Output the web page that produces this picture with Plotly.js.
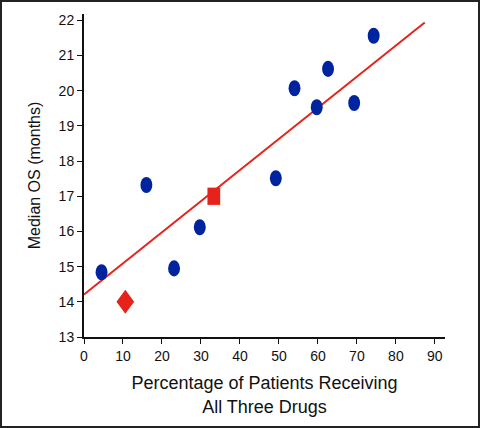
<!DOCTYPE html>
<html>
<head>
<meta charset="utf-8">
<script src="https://cdn.plot.ly/plotly-3.0.1.min.js"></script>
<style>
  html, body { margin: 0; padding: 0; background: #fff; }
  #wrap { position: relative; width: 480px; height: 428px; }
  #chart { width: 480px; height: 428px; }
  #frame { position: absolute; left: 0; top: 0; width: 480px; height: 428px; box-sizing: border-box; border: 2px solid #222; pointer-events: none; }
</style>
</head>
<body>
<div id="wrap"><div id="chart"></div><div id="frame"></div></div>
<script>
// Trials: percentage receiving all three drugs vs median OS (months)
const trialPct = [4.5, 16.0, 23.1, 29.7, 49.2, 54.0, 59.7, 62.6, 69.3, 74.3];
const trialOS  = [14.84, 17.32, 14.95, 16.12, 17.51, 20.07, 19.53, 20.62, 19.65, 21.56];
const squarePct = [33.3];
const squareOS  = [17.0];
const diamondPct = [10.6];
const diamondOS  = [14.0];
const fitPct = [0, 87.4];
const fitOS  = [14.21, 21.94];
const xTicks = [0, 10, 20, 30, 40, 50, 60, 70, 80, 90];
const yTicks = [13, 14, 15, 16, 17, 18, 19, 20, 21, 22];

const red = '#e5231b';
const blue = '#0023a0';

const traces = [
  { x: fitPct, y: fitOS, type: 'scatter', mode: 'lines', line: { color: red, width: 2 }, hoverinfo: 'skip' },
  { x: trialPct, y: trialOS, type: 'scatter', mode: 'markers', marker: { symbol: 'circle', size: 14, color: blue } },
  { x: squarePct, y: squareOS, type: 'scatter', mode: 'markers', marker: { symbol: 'square', size: 15, color: red } },
  { x: diamondPct, y: diamondOS, type: 'scatter', mode: 'markers', marker: { symbol: 'diamond', size: 16, color: red } }
];

const tickFont = { family: 'Liberation Sans, Arial, sans-serif', size: 14, color: '#111' };
const xTitleFont = { family: 'Liberation Sans, Arial, sans-serif', size: 18, color: '#111' };
const yTitleFont = { family: 'Liberation Sans, Arial, sans-serif', size: 16, color: '#111' };

const layout = {
  width: 480, height: 428,
  margin: { l: 84, r: 35, t: 14, b: 91 },
  paper_bgcolor: '#fff', plot_bgcolor: '#fff',
  showlegend: false,
  xaxis: {
    range: [0, 92.6], tickvals: xTicks, ticktext: xTicks.map(String),
    showgrid: false, zeroline: false, showline: true, linecolor: '#111', linewidth: 2,
    ticks: 'outside', ticklen: 5, tickwidth: 1, tickcolor: '#111', tickfont: tickFont,
    title: { text: 'Percentage of Patients Receiving<br>All Three Drugs', font: xTitleFont, standoff: 14 }
  },
  yaxis: {
    range: [13, 22.18], tickvals: yTicks, ticktext: yTicks.map(String),
    showgrid: false, zeroline: false, showline: true, linecolor: '#111', linewidth: 2,
    ticks: 'outside', ticklen: 5, tickwidth: 1, tickcolor: '#111', tickfont: tickFont,
    title: { text: 'Median OS (months)', font: yTitleFont, standoff: 14 }
  }
};

Plotly.newPlot('chart', traces, layout, { staticPlot: true }).then(function () {
  // the original markers are slightly taller than wide
  document.querySelectorAll('#chart .scatterlayer .trace .points path').forEach(function (p) {
    const t = p.getAttribute('transform') || '';
    p.setAttribute('transform', t + ' scale(0.85,1.15)');
  });
});
</script>
</body>
</html>
